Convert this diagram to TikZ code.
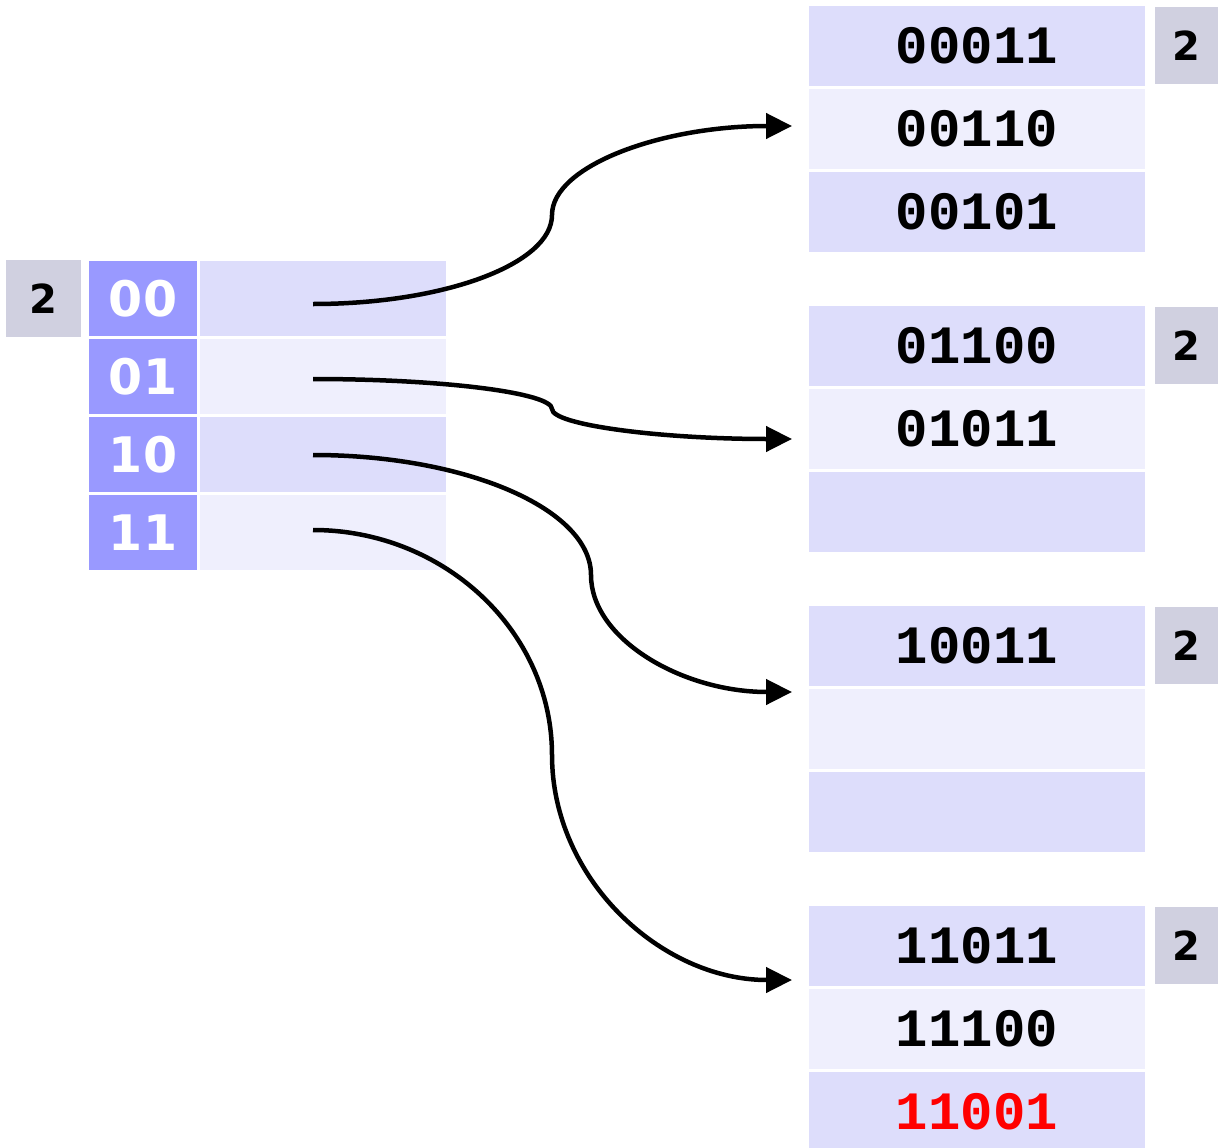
\documentclass[tikz,border=0pt]{standalone}
\usepackage{fontspec}
\setmainfont{DejaVu Sans}
\setmonofont{Liberation Mono}
\usetikzlibrary{arrows.meta}
\definecolor{keyblue}{HTML}{9999FF}
\definecolor{rowdark}{HTML}{DDDDFB}
\definecolor{rowlight}{HTML}{EFEFFD}
\definecolor{depthgray}{HTML}{D0D0E0}
\begin{document}
\begin{tikzpicture}[x=1pt,y=-1pt]
        \tikzstyle{cell}=[rectangle, inner sep=0pt, outer sep=0pt]
        \tikzstyle{depthbox}=[cell, fill=depthgray, minimum height=77pt, font={\fontsize{40}{40}\selectfont\bfseries}]
        \tikzstyle{keycell}=[cell, fill=keyblue, text=white, minimum width=108pt, minimum height=75pt, font={\fontsize{49}{49}\selectfont\bfseries}]
        \tikzstyle{ptrcell}=[cell, minimum width=246pt, minimum height=75pt]
        \tikzstyle{reccell}=[cell, minimum width=336pt, minimum height=80pt, font={\fontsize{54}{54}\selectfont\ttfamily\bfseries}]
        \tikzstyle{link}=[line width=4.5pt, -{Triangle[length=26pt,width=25pt]}]
        \useasboundingbox (0,0) rectangle (1218,1148);
        % directory
        \node[depthbox, minimum width=75pt] (gd) at (43.5,298.5) {2};
        \node[keycell] (k00) at (143,298.5) {00};
        \node[keycell] (k01) at (143,376.5) {01};
        \node[keycell] (k10) at (143,454.5) {10};
        \node[keycell] (k11) at (143,532.5) {11};
        \node[ptrcell, fill=rowdark] (p00) at (323,298.5) {};
        \node[ptrcell, fill=rowlight] (p01) at (323,376.5) {};
        \node[ptrcell, fill=rowdark] (p10) at (323,454.5) {};
        \node[ptrcell, fill=rowlight] (p11) at (323,532.5) {};
        % buckets
        \node[reccell, fill=rowdark] (b1r1) at (977,46) {00011};
        \node[reccell, fill=rowlight] (b1r2) at (977,129) {00110};
        \node[reccell, fill=rowdark] (b1r3) at (977,212) {00101};
        \node[depthbox, minimum width=63pt] (d1) at (1186.5,45.5) {2};
        \node[reccell, fill=rowdark] (b2r1) at (977,346) {01100};
        \node[reccell, fill=rowlight] (b2r2) at (977,429) {01011};
        \node[reccell, fill=rowdark] (b2r3) at (977,512) {};
        \node[depthbox, minimum width=63pt] (d2) at (1186.5,345.5) {2};
        \node[reccell, fill=rowdark] (b3r1) at (977,646) {10011};
        \node[reccell, fill=rowlight] (b3r2) at (977,729) {};
        \node[reccell, fill=rowdark] (b3r3) at (977,812) {};
        \node[depthbox, minimum width=63pt] (d3) at (1186.5,645.5) {2};
        \node[reccell, fill=rowdark] (b4r1) at (977,946) {11011};
        \node[reccell, fill=rowlight] (b4r2) at (977,1029) {11100};
        \node[reccell, fill=rowdark, text=red] (b4r3) at (977,1112) {11001};
        \node[depthbox, minimum width=63pt] (d4) at (1186.5,945.5) {2};
        % pointers
        \coordinate (s00) at (313,304);
        \coordinate (s01) at (313,379);
        \coordinate (s10) at (313,455);
        \coordinate (s11) at (313,530);
        \coordinate (m00) at (552,215);
        \coordinate (m01) at (552,409);
        \coordinate (m10) at (591,575);
        \coordinate (m11) at (552,755);
        \coordinate (e1) at (792,126);
        \coordinate (e2) at (792,439);
        \coordinate (e3) at (792,692);
        \coordinate (e4) at (792,980);
        \draw[link] (s00) .. controls +(131,0) and +(0,49) .. (m00) .. controls +(0,-49) and +(-131,0) .. (e1);
        \draw[link] (s01) .. controls +(131,0) and +(0,-16) .. (m01) .. controls +(0,16) and +(-131,0) .. (e2);
        \draw[link] (s10) .. controls +(153,0) and +(0,-66) .. (m10) .. controls +(0,64) and +(-110,0) .. (e3);
        \draw[link] (s11) .. controls +(131,0) and +(0,-124) .. (m11) .. controls +(0,124) and +(-131,0) .. (e4);
\end{tikzpicture}
\end{document}
